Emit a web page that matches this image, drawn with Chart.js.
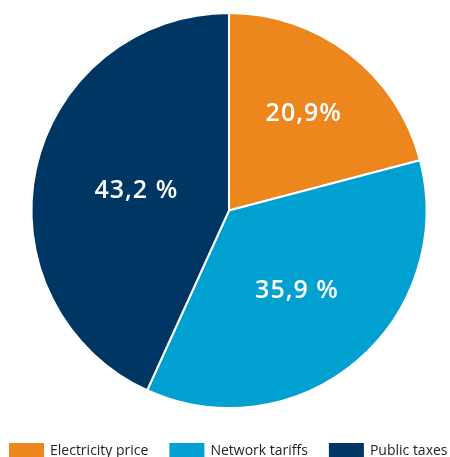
<!DOCTYPE html>
<html>
<head>
<meta charset="utf-8">
<script src="https://cdn.jsdelivr.net/npm/chart.js@4"></script>
<style>
  html, body { margin: 0; padding: 0; background: #fff; overflow: hidden; }
  #wrap { width: 450px; height: 457px; }
</style>
</head>
<body>
<div id="wrap"><canvas id="chart"></canvas></div>
<script>
const categories = ['Electricity price', 'Network tariffs', 'Public taxes'];
const shares = [20.9, 35.9, 43.2];
const shareLabels = ['20,9%', '35,9 %', '43,2 %'];
const colors = ['#EE861E', '#00A1D0', '#003664'];

// white percentage text at the centroid of each slice
const sliceLabels = {
  id: 'sliceLabels',
  afterDatasetsDraw(chart) {
    const ctx = chart.ctx;
    const meta = chart.getDatasetMeta(0);
    ctx.save();
    ctx.fillStyle = '#fff';
    ctx.font = '600 25px "Open Sans", sans-serif';
    ctx.letterSpacing = '1px';
    ctx.textAlign = 'center';
    ctx.textBaseline = 'middle';
    meta.data.forEach((arc, i) => {
      const half = (arc.endAngle - arc.startAngle) / 2;
      const mid = arc.startAngle + half;
      const r = arc.outerRadius * (2 / 3) * Math.sin(half) / half;
      ctx.fillText(shareLabels[i], arc.x + Math.cos(mid) * r, arc.y + Math.sin(mid) * r);
    });
    ctx.restore();
  }
};

// one-line legend along the bottom edge
const bottomLegend = {
  id: 'bottomLegend',
  afterDraw(chart) {
    const ctx = chart.ctx;
    const y = chart.height - 14;
    let x = 9;
    ctx.save();
    ctx.font = '14px "Open Sans", sans-serif';
    ctx.textBaseline = 'alphabetic';
    categories.forEach((name, i) => {
      ctx.fillStyle = colors[i];
      ctx.fillRect(x, y, 35, 16);
      ctx.fillStyle = '#222';
      ctx.fillText(name, x + 41, y + 12);
      x += 41 + ctx.measureText(name).width + 21;
    });
    ctx.restore();
  }
};

new Chart(document.getElementById('chart'), {
  type: 'pie',
  data: {
    labels: categories,
    datasets: [{
      data: shares,
      backgroundColor: colors,
      borderColor: '#fff',
      borderWidth: 2
    }]
  },
  options: {
    responsive: true,
    maintainAspectRatio: false,
    animation: false,
    layout: { padding: { top: 12, left: 8, right: 0, bottom: 48 } },
    plugins: {
      tooltip: { enabled: false },
      legend: { display: false }
    }
  },
  plugins: [sliceLabels, bottomLegend]
});
</script>
</body>
</html>
